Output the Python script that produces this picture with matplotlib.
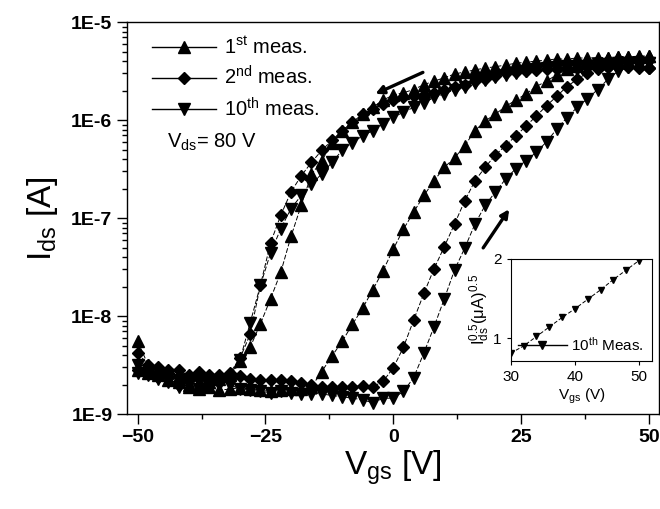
import matplotlib
matplotlib.use("Agg")
import matplotlib.pyplot as plt
import numpy as np
from matplotlib.ticker import LogLocator, FuncFormatter, MultipleLocator
from matplotlib.lines import Line2D
from matplotlib.patches import FancyArrowPatch

plt.rcParams['font.family'] = ['Liberation Sans', 'DejaVu Sans']
plt.rcParams['mathtext.default'] = 'regular'

# gate sweep, 2 V steps
vgs = list(range(-50, 52, 2))

# 1st measurement: forward (up) and backward (down) sweep, same vgs order
meas1_fwd = [5.5e-9, 3.2e-9, 2.8e-9, 2.7e-9, 2.4e-9, 2.0e-9, 1.8e-9, 1.9e-9, 1.75e-9, 1.8e-9,
             1.85e-9, 1.8e-9, 1.75e-9, 1.7e-9, 1.75e-9, 1.8e-9, 1.8e-9, 1.9e-9, 2.7e-9, 3.9e-9,
             5.5e-9, 8.2e-9, 1.2e-8, 1.85e-8, 2.9e-8, 4.8e-8, 7.7e-8, 1.15e-7, 1.7e-7, 2.4e-7,
             3.3e-7, 4.1e-7, 5.5e-7, 7.8e-7, 9.8e-7, 1.15e-6, 1.38e-6, 1.6e-6, 1.85e-6, 2.2e-6,
             2.5e-6, 2.9e-6, 3.3e-6, 3.6e-6, 3.9e-6, 4.1e-6, 4.3e-6, 4.4e-6, 4.4e-6, 4.5e-6, 4.5e-6]
meas1_bwd = [2.8e-9, 2.6e-9, 2.5e-9, 2.2e-9, 2.1e-9, 1.9e-9, 2.0e-9, 2.1e-9, 2.3e-9, 2.5e-9,
             3.5e-9, 4.8e-9, 8.3e-9, 1.5e-8, 2.8e-8, 6.5e-8, 1.35e-7, 2.8e-7, 3.8e-7, 5.9e-7,
             7.8e-7, 9.5e-7, 1.15e-6, 1.35e-6, 1.6e-6, 1.8e-6, 1.9e-6, 2.05e-6, 2.3e-6, 2.5e-6,
             2.7e-6, 2.95e-6, 3.1e-6, 3.25e-6, 3.4e-6, 3.5e-6, 3.65e-6, 3.8e-6, 3.9e-6, 4.0e-6,
             4.1e-6, 4.2e-6, 4.2e-6, 4.3e-6, 4.3e-6, 4.35e-6, 4.35e-6, 4.4e-6, 4.45e-6, 4.45e-6, 4.5e-6]

# 2nd measurement
meas2_fwd = [4.2e-9, 3.2e-9, 3.0e-9, 2.8e-9, 2.8e-9, 2.5e-9, 2.6e-9, 2.5e-9, 2.4e-9, 2.4e-9,
             2.45e-9, 2.3e-9, 2.2e-9, 2.2e-9, 2.2e-9, 2.15e-9, 2.05e-9, 2.0e-9, 1.9e-9, 1.9e-9,
             1.9e-9, 1.9e-9, 1.95e-9, 1.9e-9, 2.15e-9, 2.95e-9, 4.8e-9, 9.1e-9, 1.7e-8, 3.05e-8,
             5.1e-8, 8.7e-8, 1.5e-7, 2.4e-7, 3.3e-7, 4.4e-7, 5.5e-7, 6.9e-7, 8.7e-7, 1.1e-6,
             1.4e-6, 1.75e-6, 2.2e-6, 2.6e-6, 3.05e-6, 3.3e-6, 3.45e-6, 3.55e-6, 3.55e-6, 3.45e-6, 3.4e-6]
meas2_bwd = [2.8e-9, 2.6e-9, 2.4e-9, 2.6e-9, 2.0e-9, 2.4e-9, 2.7e-9, 2.4e-9, 2.5e-9, 2.6e-9,
             3.7e-9, 6.5e-9, 2.05e-8, 5.6e-8, 1.07e-7, 1.85e-7, 2.7e-7, 3.7e-7, 4.9e-7, 6.2e-7,
             7.8e-7, 9.5e-7, 1.15e-6, 1.3e-6, 1.45e-6, 1.6e-6, 1.7e-6, 1.75e-6, 1.8e-6, 1.9e-6,
             2.05e-6, 2.2e-6, 2.3e-6, 2.5e-6, 2.65e-6, 2.8e-6, 3.0e-6, 3.1e-6, 3.2e-6, 3.25e-6,
             3.3e-6, 3.35e-6, 3.4e-6, 3.4e-6, 3.45e-6, 3.45e-6, 3.45e-6, 3.45e-6, 3.45e-6, 3.4e-6, 3.4e-6]

# 10th measurement
meas10_fwd = [3.2e-9, 2.6e-9, 2.4e-9, 2.5e-9, 2.2e-9, 2.3e-9, 2.1e-9, 2.0e-9, 2.2e-9, 2.0e-9,
              1.8e-9, 1.75e-9, 1.7e-9, 1.65e-9, 1.7e-9, 1.65e-9, 1.6e-9, 1.6e-9, 1.6e-9, 1.55e-9,
              1.5e-9, 1.45e-9, 1.4e-9, 1.3e-9, 1.45e-9, 1.45e-9, 1.7e-9, 2.35e-9, 4.2e-9, 7.8e-9,
              1.5e-8, 2.95e-8, 4.95e-8, 8.7e-8, 1.35e-7, 1.85e-7, 2.5e-7, 3.2e-7, 3.85e-7, 4.7e-7,
              6.0e-7, 8.1e-7, 1.06e-6, 1.35e-6, 1.65e-6, 2.05e-6, 2.6e-6, 3.15e-6, 3.45e-6, 3.6e-6, 3.8e-6]
meas10_bwd = [2.6e-9, 2.5e-9, 2.3e-9, 2.1e-9, 1.9e-9, 2.0e-9, 1.8e-9, 1.9e-9, 2.0e-9, 2.2e-9,
              3.55e-9, 8.5e-9, 2.05e-8, 4.4e-8, 7.8e-8, 1.25e-7, 1.7e-7, 2.25e-7, 2.8e-7, 3.7e-7,
              4.9e-7, 5.9e-7, 6.9e-7, 7.8e-7, 9.1e-7, 1.07e-6, 1.2e-6, 1.35e-6, 1.5e-6, 1.7e-6,
              1.85e-6, 2.05e-6, 2.2e-6, 2.4e-6, 2.55e-6, 2.75e-6, 2.9e-6, 3.0e-6, 3.15e-6, 3.3e-6,
              3.4e-6, 3.45e-6, 3.55e-6, 3.6e-6, 3.6e-6, 3.7e-6, 3.7e-6, 3.7e-6, 3.8e-6, 3.8e-6, 3.8e-6]

# inset: sqrt(Ids) vs Vgs, 10th meas.
inset_vgs = [30, 32, 34, 36, 38, 40, 42, 44, 46, 48, 50]
inset_sqrt = [0.81, 0.90, 1.02, 1.14, 1.26, 1.37, 1.49, 1.61, 1.74, 1.86, 1.98]

series = [
    (meas1_fwd, meas1_bwd, '^', 8, '1$^{st}$ meas.'),
    (meas2_fwd, meas2_bwd, 'D', 6.3, '2$^{nd}$ meas.'),
    (meas10_fwd, meas10_bwd, 'v', 8, '10$^{th}$ meas.'),
]

fig = plt.figure(figsize=(6.6, 5.09), dpi=100)
ax = fig.add_axes([0.1924, 0.1866, 0.806, 0.770])

handles = []
for fwd, bwd, mk, ms, lab in series:
    x = vgs + vgs[::-1]
    y = fwd + bwd[::-1]
    ax.plot(x, y, color='black', lw=0.7, ls=(0, (5, 2)), marker=mk, ms=ms,
            mfc='black', mec='black')
    handles.append(Line2D([], [], color='black', lw=1.0, marker=mk, ms=ms, label=lab))

ax.set_yscale('log')
ax.set_xlim(-52.1, 52)
ax.set_ylim(1e-9, 1e-5)
ax.xaxis.set_major_locator(MultipleLocator(25))
ax.xaxis.set_minor_locator(MultipleLocator(12.5))
ax.yaxis.set_major_locator(LogLocator(base=10, numticks=10))
ax.yaxis.set_minor_locator(LogLocator(base=10, subs=np.arange(2, 10), numticks=10))
ax.yaxis.set_major_formatter(FuncFormatter(lambda v, p: "1E%d" % int(round(np.log10(v)))))
ax.tick_params(which='major', direction='out', length=7, width=1, labelsize=14)
ax.tick_params(which='minor', direction='out', length=3.5, width=1)
for t in ax.get_xticklabels() + ax.get_yticklabels():
    t.set_fontweight('bold')
for s in ax.spines.values():
    s.set_linewidth(1.0)

ax.set_xlabel('V$_{gs}$ [V]', fontsize=24, labelpad=2)
ax.set_ylabel('I$_{ds}$ [A]', fontsize=24, labelpad=8)

leg = ax.legend(handles=handles, loc='upper left', frameon=False, fontsize=14.5,
                handlelength=3.2, handletextpad=0.4, labelspacing=0.4,
                bbox_to_anchor=(0.02, 1.0), borderaxespad=0.3)
ax.text(0.075, 0.68, 'V$_{ds}$= 80 V', transform=ax.transAxes, fontsize=14.5)

# sweep direction arrows
for tail, head in [((6.3, 3.15e-6), (-4.0, 1.8e-6)), ((17.3, 4.7e-8), (23.0, 1.3e-7))]:
    ax.add_patch(FancyArrowPatch(tail, head, arrowstyle='-|>', color='black', lw=2.4,
                                 mutation_scale=12))

# inset
ins = fig.add_axes([0.774, 0.2908, 0.2136, 0.2004])
ins.plot(inset_vgs, inset_sqrt, color='black', lw=0.7, ls=(0, (4, 2)), marker='v', ms=4,
         mfc='black', mec='black')
ins.set_xlim(30, 52)
ins.set_ylim(0.71, 2.0)
ins.set_xticks([30, 40, 50])
ins.set_yticks([1, 2])
ins.tick_params(labelsize=11, length=3, direction='out')
ins.set_xlabel('V$_{gs}$ (V)', fontsize=11, labelpad=2)
ins.set_ylabel('I$_{ds}^{0.5}$($\\mu$A)$^{0.5}$', fontsize=12, labelpad=1)
ins.legend(handles=[Line2D([], [], color='black', lw=1.0, marker='v', ms=6,
                           label='10$^{th}$ Meas.')],
           loc='lower right', frameon=False, fontsize=11, handlelength=3.2,
           handletextpad=0.3, borderaxespad=0.1)

fig.savefig('out.png', dpi=100)
